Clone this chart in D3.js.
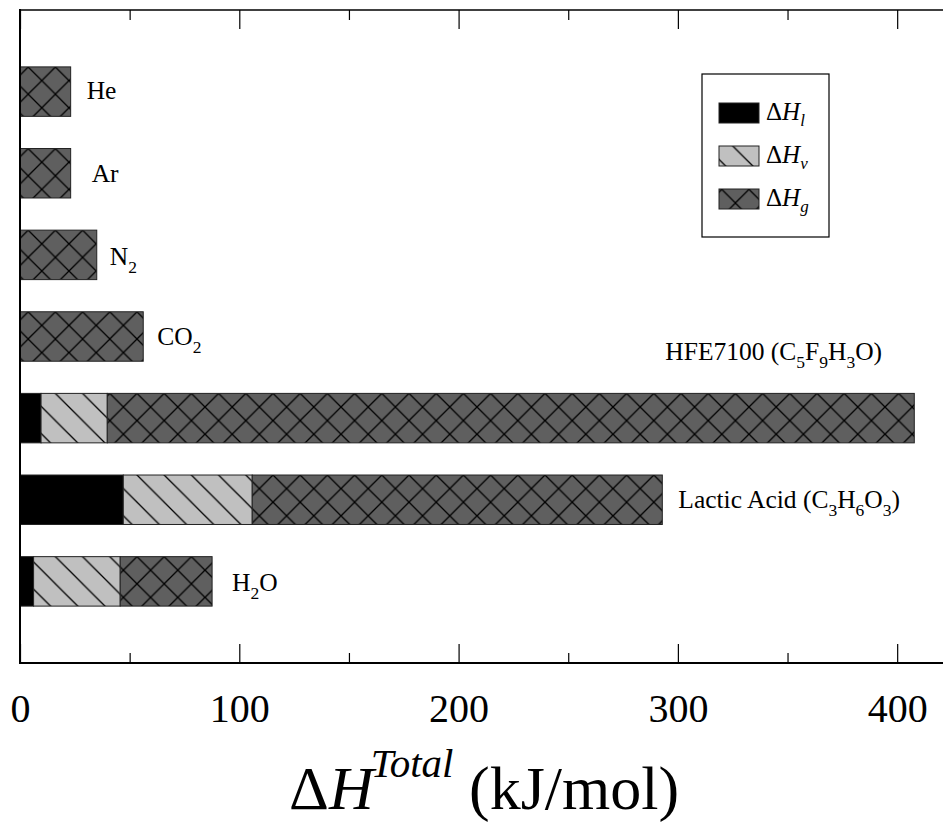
<!DOCTYPE html>
<html>
<head>
  <meta charset="utf-8">
  <script src="https://d3js.org/d3.v7.min.js"></script>
  <style>
    body { margin: 0; background: #fff; }
    svg { display: block; }
    text { font-family: "Liberation Serif", "Times New Roman", serif; fill: #000; }
  </style>
</head>
<body>
<script>
  // species from bottom to top; "_n" marks a subscript digit
  var species = ["H_2O", "Lactic Acid (C_3H_6O_3)", "HFE7100 (C_5F_9H_3O)", "CO_2", "N_2", "Ar", "He"];
  // enthalpy parts in kJ/mol
  var dHl = [6.2, 47.1, 9.6, 0, 0, 0, 0];
  var dHv = [39.5, 58.8, 30.2, 0, 0, 0, 0];
  var dHg = [41.9, 187.0, 368.0, 56.2, 35.0, 23.1, 23.1];
  var majorTicks = [0, 100, 200, 300, 400];
  var minorTicks = [50, 150, 250, 350];
  var legendKeys = ["l", "v", "g"];

  var W = 943, H = 825;
  var svg = d3.select("body").append("svg")
      .attr("width", W)
      .attr("height", H);

  var x = d3.scaleLinear().domain([0, 425]).range([20, 952]);
  var y = d3.scaleLinear().domain([0, 8]).range([663, 10]);
  var barHalf = 0.303;

  // hatch patterns
  var P = 27.2;
  var defs = svg.append("defs");
  function hatch(id, fill, cross) {
    var p = defs.append("pattern")
        .attr("id", id)
        .attr("patternUnits", "userSpaceOnUse")
        .attr("x", 1).attr("y", 12.6)
        .attr("width", P).attr("height", P);
    p.append("rect").attr("width", P).attr("height", P).attr("fill", fill);
    var d = "M0,0L" + P + "," + P + "M-1," + (P - 1) + "L1," + (P + 1) + "M" + (P - 1) + ",-1L" + (P + 1) + ",1";
    if (cross) {
      d += "M0," + P + "L" + P + ",0M-1,1L1,-1M" + (P - 1) + "," + (P + 1) + "L" + (P + 1) + "," + (P - 1);
    }
    p.append("path").attr("d", d).attr("stroke", "#000").attr("stroke-width", 1.3).attr("fill", "none");
  }
  hatch("hv", "#c0c0c0", false);
  hatch("hg", "#5f5f5f", true);
  var fills = { l: "#000", v: "url(#hv)", g: "url(#hg)" };

  // stacked segments
  var segs = [];
  species.forEach(function (s, i) {
    var a = dHl[i], b = a + dHv[i], c = b + dHg[i];
    if (dHl[i] > 0) segs.push({ i: i, k: "l", x0: 0, x1: a });
    if (dHv[i] > 0) segs.push({ i: i, k: "v", x0: a, x1: b });
    segs.push({ i: i, k: "g", x0: b, x1: c });
  });

  svg.append("g").selectAll("rect")
      .data(segs)
      .enter().append("rect")
      .attr("x", function (d) { return x(d.x0); })
      .attr("width", function (d) { return x(d.x1) - x(d.x0); })
      .attr("y", function (d) { return y(d.i + 1 + barHalf); })
      .attr("height", function (d) { return y(d.i + 1 - barHalf) - y(d.i + 1 + barHalf); })
      .attr("fill", function (d) { return fills[d.k]; })
      .attr("stroke", "#222")
      .attr("stroke-width", 1);

  // write "_n" markup as text with subscript tspans
  function richText(sel, str, big, small, shift) {
    var back = 0;
    str.split(/(_\d)/).forEach(function (part) {
      if (!part) return;
      if (part[0] === "_") {
        sel.append("tspan").attr("font-size", small).attr("dy", shift - back).text(part.slice(1));
        back = shift;
      } else {
        sel.append("tspan").attr("font-size", big).attr("dy", -back).text(part);
        back = 0;
      }
    });
  }

  // species labels, offsets from bar end
  var labelDx = [20, 16, -249, 14, 13, 21, 16];
  var labelDy = [9.5, 8.5, -58, 8.5, 10, 8.5, 7.5];
  species.forEach(function (s, i) {
    var total = dHl[i] + dHv[i] + dHg[i];
    var t = svg.append("text")
        .attr("x", x(total) + labelDx[i])
        .attr("y", y(i + 1) + labelDy[i])
        .attr("font-size", 25.5);
    richText(t, s, 25.5, 17.5, 8);
  });

  // axes
  var bottomAxis = svg.append("g").attr("transform", "translate(0," + y(0) + ")");
  bottomAxis.call(d3.axisBottom(x).tickValues(majorTicks).tickSize(-19).tickFormat(d3.format("d")));
  bottomAxis.append("g").call(d3.axisBottom(x).tickValues(minorTicks).tickSize(-10).tickFormat(""));
  bottomAxis.selectAll(".domain").remove();
  bottomAxis.selectAll("text")
      .attr("y", 59).attr("dy", 0)
      .attr("font-size", 40)
      .style("font-family", "'Liberation Serif', 'Times New Roman', serif")
      .attr("fill", "#000");

  var topAxis = svg.append("g").attr("transform", "translate(0," + y(8) + ")");
  topAxis.call(d3.axisTop(x).tickValues(majorTicks).tickSize(-19).tickFormat(""));
  topAxis.append("g").call(d3.axisTop(x).tickValues(minorTicks).tickSize(-10).tickFormat(""));
  topAxis.selectAll(".domain").remove();
  topAxis.selectAll("text").remove();
  svg.selectAll(".tick line").attr("stroke", "#000").attr("stroke-width", 1.2);

  svg.append("line")
      .attr("x1", x(0)).attr("x2", W + 10)
      .attr("y1", y(8)).attr("y2", y(8))
      .attr("stroke", "#000").attr("stroke-width", 1.4);
  svg.append("line")
      .attr("x1", x(0)).attr("x2", W + 10)
      .attr("y1", y(0)).attr("y2", y(0))
      .attr("stroke", "#000").attr("stroke-width", 2);
  svg.append("line")
      .attr("x1", x(0)).attr("x2", x(0))
      .attr("y1", y(8) - 1).attr("y2", y(0) + 1)
      .attr("stroke", "#000").attr("stroke-width", 2);

  // x axis title
  var title = svg.append("text").attr("x", 289).attr("y", 809).attr("font-size", 62);
  title.append("tspan").text("\u0394");
  title.append("tspan").attr("font-style", "italic").text("H");
  title.append("tspan").attr("font-style", "italic").attr("font-size", 41).attr("dx", -3).attr("dy", -32).text("Total");
  title.append("tspan").attr("dy", 32).text(" (kJ/mol)");

  // legend
  var lg = svg.append("g");
  lg.append("rect")
      .attr("x", 702).attr("y", 74).attr("width", 127).attr("height", 163)
      .attr("fill", "#fff").attr("stroke", "#000").attr("stroke-width", 1.2);
  legendKeys.forEach(function (k, i) {
    var ty = 103 + i * 43;
    lg.append("rect")
        .attr("x", 719).attr("y", ty).attr("width", 40).attr("height", 20)
        .attr("fill", fills[k]).attr("stroke", "#222").attr("stroke-width", 1);
    var t = lg.append("text").attr("x", 766).attr("y", ty + 17).attr("font-size", 25);
    t.append("tspan").text("\u0394");
    t.append("tspan").attr("font-style", "italic").text("H");
    t.append("tspan").attr("font-style", "italic").attr("font-size", 17).attr("dy", 6).text(k);
  });
</script>
</body>
</html>
